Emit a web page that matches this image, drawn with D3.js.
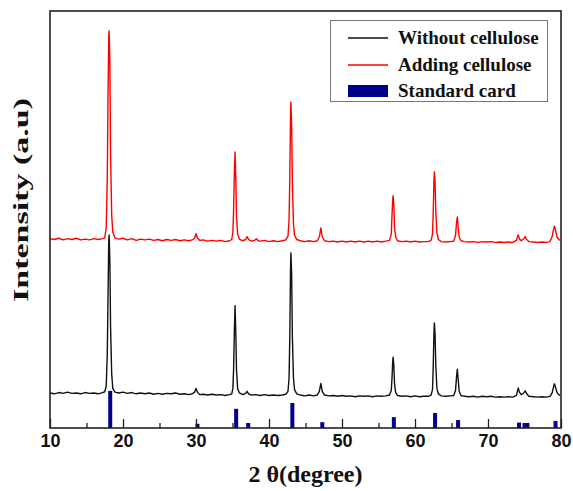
<!DOCTYPE html>
<html><head><meta charset="utf-8">
<script src="https://cdn.jsdelivr.net/npm/d3@7"></script>
<style>body{margin:0;background:#fff}svg{display:block}</style>
</head><body><svg id="c" width="573" height="491"></svg>
<script>
// ---- data ----
const seriesNames = ["Without cellulose", "Adding cellulose", "Standard card"];
const xTicks = [10, 20, 30, 40, 50, 60, 70, 80];
const xMinorTicks = [15, 25, 35, 45, 55, 65, 75];

const withoutCellulose = [
[10.0,84],[10.6,82],[11.2,85],[11.8,83],[12.4,86],[13.0,83],[13.6,84],[14.2,82],[14.8,85],[15.4,83],[16.0,84],[16.6,82],[17.2,85],[17.5,87],
[17.7,100],[17.85,180],[17.95,320],[18.05,450],[18.1,463],[18.2,400],[18.3,240],[18.45,130],[18.6,95],[18.9,86],
[19.4,84],[20.0,86],[20.6,83],[21.2,85],[21.8,82],[22.4,84],[23.0,82],[23.6,84],[24.2,81],[24.8,83],[25.4,81],[26.0,83],[26.6,82],[27.2,84],[27.8,81],[28.4,82],[29.0,80],[29.5,82],
[29.8,86],[30.0,95],[30.2,86],[30.5,80],
[31.0,81],[31.6,79],[32.2,81],[32.8,79],[33.4,80],[34.0,78],[34.6,80],[34.9,82],
[35.05,95],[35.15,140],[35.25,230],[35.35,293],[35.45,230],[35.55,140],[35.7,95],[35.95,84],
[36.4,80],[36.8,83],[37.0,88],[37.2,82],[37.6,79],[38.2,80],[38.8,78],[39.4,80],[40.0,78],[40.6,79],[41.2,78],[41.8,79],[42.3,81],[42.6,88],
[42.75,120],[42.85,220],[42.95,380],[43.0,420],[43.1,370],[43.2,220],[43.35,120],[43.5,92],[43.8,82],
[44.3,79],[44.9,77],[45.5,79],[46.1,77],[46.6,79],[46.9,88],[47.1,107],[47.3,88],[47.6,79],
[48.2,77],[48.8,78],[49.4,76],[50.0,78],[50.6,76],[51.2,77],[51.8,75],[52.4,77],[53.0,76],[53.6,77],[54.2,75],[54.8,77],[55.4,76],[56.0,77],[56.5,79],[56.75,90],
[56.85,120],[56.95,160],[57.0,170],[57.1,150],[57.2,105],[57.35,85],[57.6,78],
[58.2,76],[58.8,77],[59.4,75],[60.0,77],[60.6,75],[61.2,76],[61.8,76],[62.2,79],[62.4,92],
[62.5,150],[62.6,230],[62.65,252],[62.75,225],[62.85,150],[63.0,95],[63.2,82],[63.6,77],
[64.2,76],[64.8,77],[65.3,78],[65.55,90],[65.7,125],[65.8,141],[65.9,120],[66.05,88],[66.3,78],
[66.8,76],[67.4,75],[68.0,76],[68.6,74],[69.2,76],[69.8,75],[70.4,76],[71.0,74],[71.6,75],[72.2,74],[72.8,75],[73.4,74],[73.9,78],
[74.05,90],[74.15,96],[74.3,86],[74.55,80],[74.9,84],[75.1,89],[75.3,82],[75.6,76],[76.2,75],[76.8,74],[77.4,75],[78.0,74],[78.5,76],[78.8,85],[79.0,100],[79.1,106],[79.25,98],[79.45,85],[79.7,80],[79.9,78]
];

const addingCellulose = [
[10.0,454],[10.6,452],[11.2,455],[11.8,451],[12.4,454],[13.0,452],[13.6,455],[14.2,451],[14.8,453],[15.4,451],[16.0,454],[16.6,452],[17.2,454],[17.5,456],
[17.7,480],[17.85,600],[17.95,800],[18.05,940],[18.1,952],[18.2,880],[18.3,650],[18.45,510],[18.6,470],[18.9,456],
[19.4,453],[20.0,455],[20.6,451],[21.2,454],[21.8,450],[22.4,453],[23.0,451],[23.6,453],[24.2,450],[24.8,452],[25.4,449],[26.0,452],[26.6,450],[27.2,452],[27.8,449],[28.4,451],[29.0,449],[29.5,451],
[29.8,455],[30.0,466],[30.2,455],[30.5,450],
[31.0,451],[31.6,448],[32.2,450],[32.8,448],[33.4,450],[34.0,447],[34.6,449],[34.9,452],
[35.05,470],[35.15,520],[35.25,610],[35.35,662],[35.45,600],[35.55,510],[35.7,465],[35.95,453],
[36.4,449],[36.8,452],[37.0,459],[37.2,452],[37.6,448],[38.0,450],[38.3,454],[38.5,449],[38.8,448],[39.4,450],[40.0,447],[40.6,449],[41.2,447],[41.8,449],[42.3,451],[42.6,460],
[42.75,500],[42.85,600],[42.95,750],[43.0,782],[43.1,730],[43.2,590],[43.35,490],[43.5,462],[43.8,452],
[44.3,449],[44.9,447],[45.5,449],[46.1,447],[46.6,449],[46.9,458],[47.1,480],[47.3,458],[47.6,449],
[48.2,447],[48.8,448],[49.4,446],[50.0,448],[50.6,446],[51.2,448],[51.8,446],[52.4,448],[53.0,446],[53.6,448],[54.2,446],[54.8,448],[55.4,446],[56.0,448],[56.5,450],[56.75,465],
[56.85,510],[56.95,548],[57.0,557],[57.1,535],[57.2,480],[57.35,458],[57.6,449],
[58.2,447],[58.8,448],[59.4,446],[60.0,448],[60.6,446],[61.2,447],[61.8,447],[62.2,450],[62.4,465],
[62.5,520],[62.6,595],[62.65,614],[62.75,590],[62.85,520],[63.0,468],[63.2,452],[63.6,447],
[64.2,446],[64.8,447],[65.3,448],[65.55,462],[65.7,495],[65.8,506],[65.9,485],[66.05,458],[66.3,449],
[66.8,447],[67.4,446],[68.0,447],[68.6,445],[69.2,447],[69.8,446],[70.4,447],[71.0,445],[71.6,446],[72.2,445],[72.8,446],[73.4,445],[73.9,450],
[74.05,460],[74.15,463],[74.3,454],[74.55,449],[74.9,454],[75.1,459],[75.3,452],[75.6,447],[76.2,446],[76.8,445],[77.4,446],[78.0,445],[78.5,447],[78.8,460],[79.0,478],[79.1,484],[79.25,475],[79.45,458],[79.7,452],[79.9,450]
];

const cardPositions = [18.25, 30.2, 35.5, 37.15, 43.2, 47.3, 57.1, 62.75, 65.9, 74.25, 75.0, 75.4, 79.25];
const cardIntensities = [89, 10, 46, 12, 60, 14, 26, 36, 19, 13, 12, 12, 17];

// ---- layout ----
const svg = d3.select("#c");
const L = 50, R = 561, T = 11, B = 428;
const x = d3.scaleLinear().domain([10, 80]).range([L, R]);
const y = d3.scaleLinear().domain([0, 1000]).range([B, T]);

// standard card bars
svg.append("g").selectAll("rect").data(cardPositions).join("rect")
  .attr("x", d => x(d) - 2).attr("width", 4)
  .attr("y", (d, i) => y(cardIntensities[i]))
  .attr("height", (d, i) => y(0) - y(cardIntensities[i]))
  .attr("fill", "#000088");

const line = d3.line().x(d => x(d[0])).y(d => y(d[1]));
svg.append("path").datum(withoutCellulose).attr("d", line)
  .attr("fill", "none").attr("stroke", "#111").attr("stroke-width", 1.4).attr("stroke-linejoin", "round");
svg.append("path").datum(addingCellulose).attr("d", line)
  .attr("fill", "none").attr("stroke", "#ff0000").attr("stroke-width", 1.4).attr("stroke-linejoin", "round");

// axes ticks (inward)
const gMaj = svg.append("g").attr("transform", `translate(0,${B})`)
  .call(d3.axisBottom(x).tickValues(xTicks).tickSize(-9).tickPadding(6).tickFormat(d3.format("d")));
gMaj.select(".domain").remove();
gMaj.selectAll("line").attr("stroke", "#222").attr("stroke-width", 1.3);
gMaj.selectAll("text").attr("font-family", "'Liberation Sans', Arial, sans-serif")
  .attr("font-weight", "bold").attr("font-size", 18).attr("fill", "#111");
const gMin = svg.append("g").attr("transform", `translate(0,${B})`)
  .call(d3.axisBottom(x).tickValues(xMinorTicks).tickSize(-5).tickFormat(""));
gMin.select(".domain").remove();
gMin.selectAll("line").attr("stroke", "#222").attr("stroke-width", 1.3);

// frame
svg.append("rect").attr("x", L).attr("y", T).attr("width", R - L).attr("height", B - T)
  .attr("fill", "none").attr("stroke", "#222").attr("stroke-width", 1.6);

// axis titles
const serif = "'Liberation Serif', 'Times New Roman', serif";
svg.append("text").attr("x", (L + R) / 2).attr("y", 482).attr("text-anchor", "middle")
  .attr("font-family", serif).attr("font-weight", "bold").attr("font-size", 24).attr("fill", "#111")
  .text("2 θ(degree)");
svg.append("text").attr("transform", "translate(28,200) rotate(-90)").attr("text-anchor", "middle")
  .attr("font-family", serif).attr("font-weight", "bold").attr("font-size", 22).attr("fill", "#111")
  .attr("textLength", 204).attr("lengthAdjust", "spacingAndGlyphs")
  .text("Intensity (a.u)");

// legend
const lg = svg.append("g");
lg.append("rect").attr("x", 330.5).attr("y", 20.5).attr("width", 217).attr("height", 81)
  .attr("fill", "#fff").attr("stroke", "#777").attr("stroke-width", 1);
const rows = [38, 65, 91];
const colors = ["#111", "#ff0000", "#000088"];
seriesNames.forEach((name, i) => {
  if (i < 2) {
    lg.append("line").attr("x1", 348).attr("x2", 388).attr("y1", rows[i]).attr("y2", rows[i])
      .attr("stroke", colors[i]).attr("stroke-width", 1.6);
  } else {
    lg.append("rect").attr("x", 348).attr("y", rows[i] - 6).attr("width", 40).attr("height", 12)
      .attr("fill", colors[i]);
  }
  lg.append("text").attr("x", 398).attr("y", rows[i] + 6)
    .attr("font-family", serif).attr("font-weight", "bold").attr("font-size", 19).attr("fill", "#111")
    .text(name);
});
</script></body></html>
